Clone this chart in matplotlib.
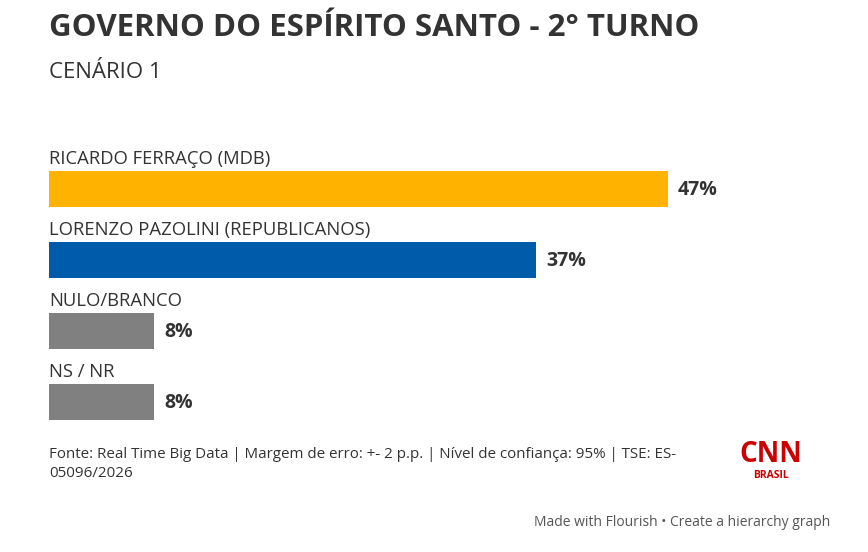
import matplotlib.pyplot as plt

labels = ["RICARDO FERRAÇO (MDB)", "LORENZO PAZOLINI (REPUBLICANOS)", "NULO/BRANCO", "NS / NR"]
values = [47, 37, 8, 8]
colors = ["#FFB300", "#005BAA", "#808080", "#808080"]

W, H = 868, 552
fig = plt.figure(figsize=(W / 100, H / 100), dpi=100)
plt.rcParams["font.family"] = ["Open Sans", "DejaVu Sans"]

# axes: x from px 49 to 868, y from px 130 to 430
ax = fig.add_axes([49 / W, 1 - 430 / H, (W - 49) / W, 300 / H])
ax.set_xlim(0, (W - 49) / 13.17)
ax.set_ylim(430, 130)
ax.axis("off")

for i, (lab, v, c) in enumerate(zip(labels, values, colors)):
    top = 171 + i * 71
    ax.barh(top + 18, v, height=36, color=c)
    ax.text(0, top - 3, lab, fontsize=13.3, color="#333333", va="bottom", ha="left")
    ax.text(v + 0.75, top + 19, f"{v}%", fontsize=14, fontweight="bold", color="#333333", va="center")

fig.text(49 / W, 1 - 28 / H, "GOVERNO DO ESPÍRITO SANTO - 2° TURNO", fontsize=22.5, fontweight="bold",
         color="#333333", va="center")
fig.text(49 / W, 1 - 73 / H, "CENÁRIO 1", fontsize=16, color="#333333", va="center")
fig.text(49 / W, 1 - 464 / H, "Fonte: Real Time Big Data | Margem de erro: +- 2 p.p. | Nível de confiança: 95% | TSE: ES-\n05096/2026",
         fontsize=10.9, color="#333333", va="center", linespacing=1.45)
fig.text(771 / W, 1 - 455 / H, "CNN", fontsize=20, fontweight="bold", color="#CC0000", ha="center", va="center")
fig.text(771 / W, 1 - 475 / H, "BRASIL", fontsize=7.5, fontweight="bold", color="#CC0000", ha="center", va="center")
fig.text(830 / W, 1 - 522 / H, "Made with Flourish • Create a hierarchy graph", fontsize=10, color="#555555",
         ha="right", va="center")

fig.savefig("out.png", dpi=100)
